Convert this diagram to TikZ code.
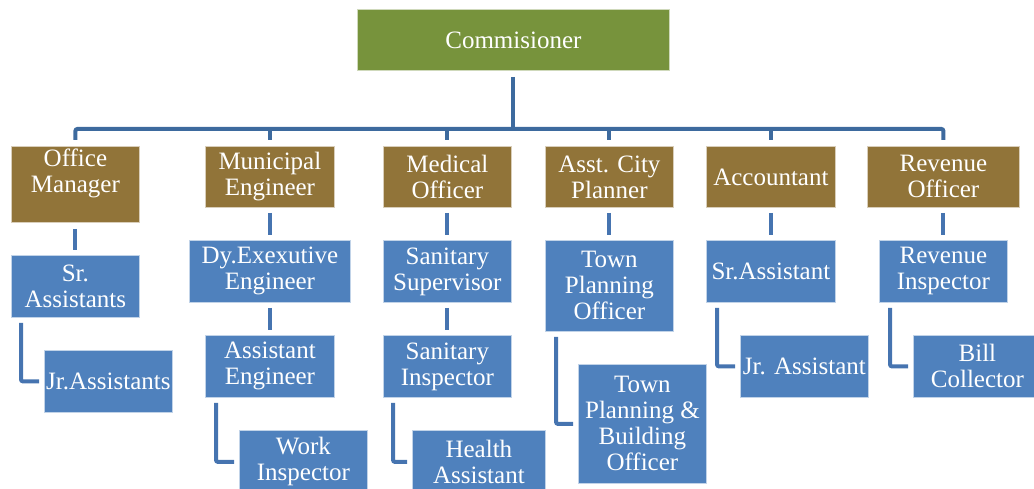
\documentclass[tikz,border=0pt]{standalone}
\usepackage{fontspec}
\setmainfont{Liberation Serif}
\definecolor{cgreen}{HTML}{77933C}
\definecolor{cbrown}{HTML}{917439}
\definecolor{cblue}{HTML}{4F81BD}
\definecolor{ctopline}{HTML}{3D6A9E}
\definecolor{clowline}{HTML}{4674B0}
\tikzset{
  box/.style={rectangle, draw=white!65!#1, fill=#1, line width=0.8pt, text=white,
    align=center, inner sep=0pt, font=\fontsize{25}{26}\selectfont, anchor=north west},
  greenbox/.style={box=cgreen},
  brownbox/.style={box=cbrown},
  bluebox/.style={box=cblue},
  toplink/.style={draw=ctopline, line width=4pt, rounded corners=2pt},
  lowlink/.style={draw=clowline, line width=4pt, rounded corners=2pt},
  lbl/.style={text=white, align=center, inner sep=0pt, font=\fontsize{25}{26}\selectfont}
}
\begin{document}
\begin{tikzpicture}[x=1pt,y=-1pt]
\useasboundingbox (0,0) rectangle (1034,489);
\clip (0,0) rectangle (1034,489);
% level 0
\node[greenbox, minimum width=312pt, minimum height=61pt] (com) at (357,9) {Commisioner};
% level 1
\node[brownbox, minimum width=128pt, minimum height=76pt] (om) at (11,146) {};
\node[lbl, anchor=north] (omt) at ([yshift=-3pt]om.north) {Office\\Manager};
\node[brownbox, minimum width=129pt, minimum height=61pt] (me) at (205,146) {Municipal\\Engineer};
\node[brownbox, minimum width=128pt, minimum height=61pt] (mo) at (383,146) {Medical\\Officer};
\node[brownbox, minimum width=128pt, minimum height=61pt] (acp) at (545,146) {Asst. City\\Planner};
\node[brownbox, minimum width=129pt, minimum height=61pt] (acc) at (706,146) {Accountant};
\node[brownbox, minimum width=152pt, minimum height=61pt] (ro) at (867,146) {Revenue\\Officer};
% level 2
\node[bluebox, minimum width=128pt, minimum height=62pt] (sra) at (11,255) {Sr.\\Assistants};
\node[bluebox, minimum width=161pt, minimum height=62pt] (dee) at (189,240) {Dy.Exexutive\\Engineer};
\node[bluebox, minimum width=128pt, minimum height=62pt] (ss) at (383,240) {Sanitary\\Supervisor};
\node[bluebox, minimum width=128pt, minimum height=91pt] (tpo) at (545,240) {Town\\Planning\\Officer};
\node[bluebox, minimum width=129pt, minimum height=62pt] (sr) at (706,240) {Sr.Assistant};
\node[bluebox, minimum width=128pt, minimum height=62pt] (ri) at (879,240) {Revenue\\Inspector};
% level 3
\node[bluebox, minimum width=128pt, minimum height=62pt] (jra) at (44,350) {Jr.Assistants};
\node[bluebox, minimum width=129pt, minimum height=62pt] (ae) at (205,335) {Assistant\\Engineer};
\node[bluebox, minimum width=128pt, minimum height=62pt] (si) at (383,335) {Sanitary\\Inspector};
\node[bluebox, minimum width=128pt, minimum height=119pt] (tpbo) at (578,364) {Town\\Planning \&\\Building\\Officer};
\node[bluebox, minimum width=128pt, minimum height=62pt] (jr) at (740,335) {Jr. Assistant};
\node[bluebox, minimum width=128pt, minimum height=62pt] (bc) at (913,335) {Bill\\Collector};
% level 4
\node[bluebox, minimum width=128pt, minimum height=63pt] (wi) at (239,430) {Work\\Inspector};
\node[bluebox, minimum width=133pt, minimum height=63pt] (ha) at (412,430) {Health\\Assistant};
% top connectors
\coordinate (bar) at (0,129);
\draw[toplink] ([yshift=-6pt]com.south) -- (com.south |- bar);
\draw[toplink] ([yshift=6pt]om.north) -- (om.north |- bar) -- (ro.north |- bar) -- ([yshift=6pt]ro.north);
\foreach \n in {me,mo,acp,acc}{
  \draw[toplink] (\n.north |- bar) -- ([yshift=6pt]\n.north);
}
% vertical connectors
\draw[lowlink] ([yshift=-6pt]om.south) -- ([yshift=5pt]sra.north);
\draw[lowlink] ([yshift=-5pt]me.south) -- ([yshift=5pt]dee.north);
\draw[lowlink] ([yshift=-5pt]mo.south) -- ([yshift=5pt]ss.north);
\draw[lowlink] ([yshift=-5pt]acp.south) -- ([yshift=5pt]tpo.north);
\draw[lowlink] ([yshift=-5pt]acc.south) -- ([yshift=5pt]sr.north);
\draw[lowlink] ([yshift=-5pt]ro.south) -- ([yshift=5pt]ri.north);
\draw[lowlink] ([yshift=-5pt]dee.south) -- ([yshift=5pt]ae.north);
\draw[lowlink] ([yshift=-5pt]ss.south) -- ([yshift=5pt]si.north);
% elbow connectors
\draw[lowlink] ([xshift=10pt,yshift=-5pt]sra.south west) |- ([xshift=-5pt]jra.west);
\draw[lowlink] ([xshift=11pt,yshift=-5pt]ae.south west) |- ([xshift=-5pt]wi.west);
\draw[lowlink] ([xshift=10pt,yshift=-5pt]si.south west) |- ([xshift=-5pt]ha.west);
\draw[lowlink] ([xshift=11pt,yshift=-5pt]tpo.south west) |- ([xshift=-5pt]tpbo.west);
\draw[lowlink] ([xshift=11pt,yshift=-5pt]sr.south west) |- ([xshift=-5pt]jr.west);
\draw[lowlink] ([xshift=11pt,yshift=-5pt]ri.south west) |- ([xshift=-5pt]bc.west);
\end{tikzpicture}
\end{document}
